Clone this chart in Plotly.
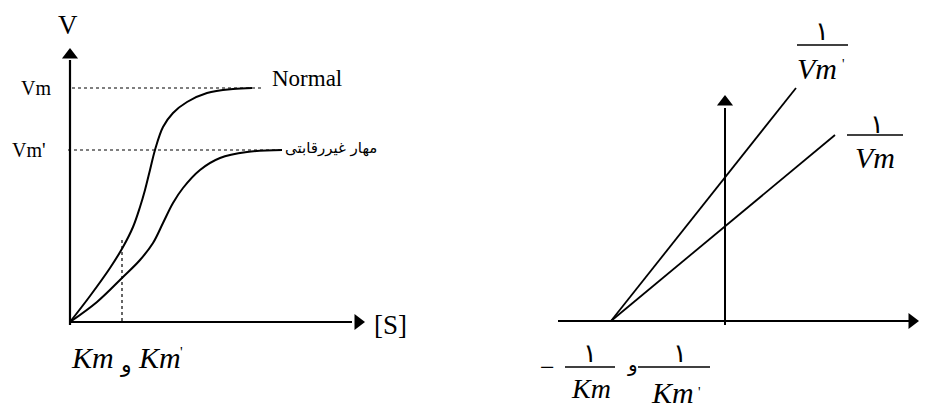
import plotly.graph_objects as go

# diagram coordinates (pixel-like space, y grows downward)
normal_x = [70, 90, 110, 123, 133, 140, 145, 150, 155, 163, 173, 187, 207, 233, 252]
normal_y = [322, 296, 268, 247, 227, 207, 190, 170, 150, 127, 113, 102, 93, 89, 88]

inhib_x = [70, 97, 123, 140, 153, 163, 173, 183, 200, 220, 247, 282]
inhib_y = [322, 302, 277, 260, 243, 223, 203, 188, 170, 158, 152, 150]

vm_line_x, vm_line_y = [72, 262], [88, 88]
vmp_line_x, vmp_line_y = [68, 284], [150, 150]
km_line_x, km_line_y = [122, 122], [240, 322]

lb_origin = (611, 321)
lb_steep_end = (796, 88)
lb_shallow_end = (835, 135)

SERIF = "Liberation Serif"
AR = "DejaVu Sans"

fig = go.Figure()

def line(x, y, w=2, dash="solid", shape="linear"):
    fig.add_trace(go.Scatter(x=x, y=y, mode="lines", hoverinfo="skip", cliponaxis=False,
                             line=dict(color="black", width=w, dash=dash, shape=shape)))

# left panel axes
line([70, 70], [325, 60], 2.2)
line([70, 352], [322, 322], 2.2)
# dotted guides
line(vm_line_x, vm_line_y, 1.2, "dot")
line(vmp_line_x, vmp_line_y, 1.2, "dot")
line(km_line_x, km_line_y, 1.2, "dot")
# curves
line(normal_x, normal_y, 2, shape="spline")
line(inhib_x, inhib_y, 2, shape="spline")

# right panel axes
line([558, 910], [321, 321], 2)
line([725, 725], [325, 108], 2)
line([lb_origin[0], lb_steep_end[0]], [lb_origin[1], lb_steep_end[1]], 1.8)
line([lb_origin[0], lb_shallow_end[0]], [lb_origin[1], lb_shallow_end[1]], 1.8)

# fraction bars
for bx, by in [([797, 848], 45), ([847, 903], 135), ([565, 615], 367), ([638, 710], 367)]:
    line(bx, [by, by], 1.3)

# arrowheads
fig.add_trace(go.Scatter(x=[70, 725], y=[55, 102], mode="markers", hoverinfo="skip",
                         cliponaxis=False,
                         marker=dict(symbol="triangle-up", size=14, color="black")))
fig.add_trace(go.Scatter(x=[358, 912], y=[322, 321], mode="markers", hoverinfo="skip",
                         cliponaxis=False,
                         marker=dict(symbol="triangle-right", size=14, color="black")))

def tx(x, y, s, size, family=SERIF, xanchor="center", italic=False, yanchor="middle"):
    fig.add_annotation(x=x, y=y, text=s, showarrow=False,
                       font=dict(family=family, size=size, color="black",
                                 style="italic" if italic else "normal"),
                       xanchor=xanchor, yanchor=yanchor)

tx(68, 8, "V", 27, yanchor="top")
tx(36, 88, "Vm", 20)
tx(29, 150, "Vm'", 20)
tx(270, 78, "Normal", 23, xanchor="left")
tx(379, 148, "مهار غیررقابتی", 15, family=AR, xanchor="right")
tx(390, 325, "[S]", 27)

tx(92, 357, "Km", 30, italic=True)
tx(126, 364, "و", 22, family=AR)
tx(159, 357, "Km", 30, italic=True)
tx(181, 352, "'", 15)

# right panel labels
tx(822, 31, "١", 26, family=AR)
tx(817, 68, "Vm", 30, italic=True)
tx(843, 64, "'", 14)
tx(877, 124, "١", 26, family=AR)
tx(875, 157, "Vm", 30, italic=True)

tx(547, 367, "−", 26)
tx(590, 353, "١", 26, family=AR)
tx(591, 388, "Km", 28, italic=True)
tx(632, 364, "و", 20, family=AR)
tx(680, 353, "١", 26, family=AR)
tx(672, 392, "Km", 30, italic=True)
tx(699, 392, "'", 14)

# the page body has an 8px margin, so the figure starts at (8, 8)
fig.update_layout(
    width=920, height=401, margin=dict(l=0, r=0, t=0, b=0),
    plot_bgcolor="white", paper_bgcolor="white", showlegend=False,
    xaxis=dict(range=[8, 928], visible=False, fixedrange=True),
    yaxis=dict(range=[409, 8], visible=False, fixedrange=True),
)
fig.write_html("out.html")
